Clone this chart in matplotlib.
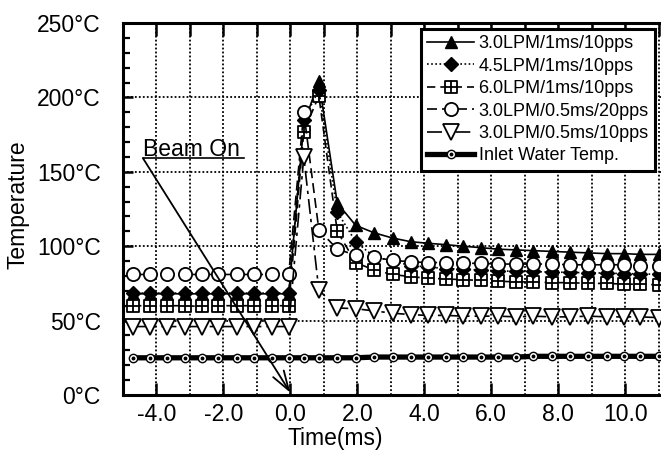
import matplotlib
matplotlib.use("Agg")
import matplotlib.pyplot as plt
from matplotlib.path import Path
from matplotlib.ticker import MultipleLocator, FuncFormatter

plt.rcParams['font.family'] = ['Liberation Sans', 'DejaVu Sans']

# sample times (ms)
time_ms = [-4.7, -4.2, -3.7, -3.15, -2.65, -2.15, -1.6, -1.1, -0.55, -0.05,
           0.4, 0.85, 1.4, 1.95, 2.5, 3.05, 3.6, 4.1, 4.65, 5.15, 5.7,
           6.2, 6.75, 7.25, 7.8, 8.35, 8.9, 9.45, 9.95, 10.45, 11.0]

lpm30_1ms_10pps = [68, 68, 68, 68, 68, 68, 68, 68, 68, 68,
                   182, 211, 129, 114, 109, 105.5, 103, 102, 101, 100, 99,
                   98, 97.5, 97, 96.5, 96, 95.5, 95, 95, 94.5, 94.5]
lpm45_1ms_10pps = [68.5, 68.5, 68.5, 68.5, 68.5, 68.5, 68.5, 68.5, 68.5, 68.5,
                   185, 205, 123, 103, 93, 90, 87, 86, 85, 84.5, 84,
                   83.5, 83, 83, 82.5, 82.5, 82, 82, 81.5, 81.5, 81]
lpm60_1ms_10pps = [60, 60, 60, 60, 59.5, 60, 60, 60, 60, 60,
                   177, 201, 110, 89, 84, 81, 79.5, 78.5, 78, 77.5, 77,
                   76.5, 76, 76, 75.5, 75.5, 75, 75, 74.5, 74.5, 74]
lpm30_05ms_20pps = [81, 81, 81, 81, 81, 81, 81, 81, 81, 81,
                    190, 111, 98, 94, 92.5, 90.5, 89.5, 89, 89, 88.5, 88.5,
                    88, 88, 88, 88, 87.5, 87.5, 87.5, 87.5, 87, 87]
lpm30_05ms_10pps = [46, 46, 46, 46, 46, 46, 46, 46, 46, 46,
                    160, 70.5, 58.5, 58, 56.5, 55, 54, 53.5, 53.5, 53, 53,
                    53, 52.5, 53, 52.5, 52.5, 53, 52.5, 52.5, 52.5, 52]
inlet_water = [25, 25, 25, 25, 25, 25, 25, 25, 25, 25,
               25, 25, 25, 25, 25.5, 25.5, 25.5, 25.5, 25.5, 25.5, 25.5,
               25.5, 25.5, 26, 26, 26, 26, 26, 26, 26, 26]

labels = ["3.0LPM/1ms/10pps", "4.5LPM/1ms/10pps", "6.0LPM/1ms/10pps",
          "3.0LPM/0.5ms/20pps", "3.0LPM/0.5ms/10pps", "Inlet Water Temp."]

# square with a cross inside
sq_plus = Path([(-1, -1), (1, -1), (1, 1), (-1, 1), (-1, -1),
                (0, -1), (0, 1), (-1, 0), (1, 0)],
               [Path.MOVETO, Path.LINETO, Path.LINETO, Path.LINETO, Path.CLOSEPOLY,
                Path.MOVETO, Path.LINETO, Path.MOVETO, Path.LINETO])

fig = plt.figure(figsize=(6.61, 4.57), dpi=100)
ax = fig.add_axes([123 / 661, 62 / 457, 538 / 661, 372 / 457])

k = dict(color='black', lw=1.2)
h1, = ax.plot(time_ms, lpm30_1ms_10pps, '-', marker='^', ms=9, mfc='black', mec='black', **k)
h3, = ax.plot(time_ms, lpm60_1ms_10pps, ls=(0, (5, 3)), marker=sq_plus, ms=8.5,
              mfc='white', mec='black', mew=1.3, **k)
h2, = ax.plot(time_ms, lpm45_1ms_10pps, ls=(0, (1, 1.5)), marker='D', ms=7.5, mfc='black', mec='black', **k)
h4, = ax.plot(time_ms, lpm30_05ms_20pps, ls=(0, (6, 3)), marker='o', ms=9.5,
              mfc='white', mec='black', mew=1.3, **k)
h5, = ax.plot(time_ms, lpm30_05ms_10pps, ls=(0, (9, 3, 2, 3)), marker='v', ms=11,
              mfc='white', mec='black', mew=1.3, **k)
h6, = ax.plot(time_ms, inlet_water, '-', color='black', lw=3.8, marker='o', ms=6,
              mfc='white', mec='black', mew=1.0)
h6b, = ax.plot(time_ms, inlet_water, ls='none', marker='o', ms=1.8, color='black')

ax.set_xlim(-5.0, 11.07)
ax.set_ylim(0, 250)

ax.xaxis.set_major_locator(MultipleLocator(2))
ax.xaxis.set_minor_locator(MultipleLocator(1))
ax.yaxis.set_major_locator(MultipleLocator(50))
ax.yaxis.set_minor_locator(MultipleLocator(10))
ax.xaxis.set_major_formatter(FuncFormatter(lambda v, p: f"{v:.1f}"))
ax.yaxis.set_major_formatter(FuncFormatter(lambda v, p: f"{v:.0f}°C"))

ax.grid(True, which='both', axis='x', color='black', ls=(0, (1, 1.2)), lw=1.3)
ax.grid(True, which='major', axis='y', color='black', ls=(0, (1, 1.2)), lw=1.3)
ax.set_axisbelow(True)

ax.tick_params(axis='x', which='major', direction='in', length=9, width=1.8,
               top=True, labelsize=16.5, pad=6)
ax.tick_params(axis='x', which='minor', direction='in', length=9, width=1.8,
               top=True, bottom=False)
ax.tick_params(axis='y', which='major', direction='in', length=7, width=1.8,
               labelsize=16.5, pad=16)
ax.tick_params(axis='y', which='minor', direction='in', length=5, width=1.6)

for s in ['left', 'bottom', 'top']:
    ax.spines[s].set_linewidth(2.2)
ax.spines['right'].set_visible(False)

# Beam On annotation
ax.text(-4.4, 157.5, "Beam On", fontsize=16.5, ha='left', va='bottom')
ax.plot([-4.4, -1.4], [159, 159], color='black', lw=1.2)
ax.annotate("", xy=(0.0, 1.5), xytext=(-4.4, 159),
            arrowprops=dict(arrowstyle='->,head_length=1.4,head_width=0.45',
                            color='black', lw=1.3, shrinkA=0, shrinkB=0))

fig.text(18 / 661, 1 - 205 / 457, "Temperature", rotation=90, fontsize=16.5,
         ha='center', va='center')
fig.text(335 / 661, 1 - 438 / 457, "Time(ms)", fontsize=16.5, ha='center', va='center')

leg = ax.legend([h1, h2, h3, h4, h5, (h6, h6b)], labels,
                loc='upper right', bbox_to_anchor=(655 / 661, 1 - 29 / 457),
                bbox_transform=fig.transFigure, borderaxespad=0,
                fontsize=13, handlelength=2.6, handletextpad=0.25,
                labelspacing=0.3, borderpad=0.35, fancybox=False,
                framealpha=1, edgecolor='black')
leg.get_frame().set_linewidth(2.2)

fig.savefig("out.png", dpi=100)
